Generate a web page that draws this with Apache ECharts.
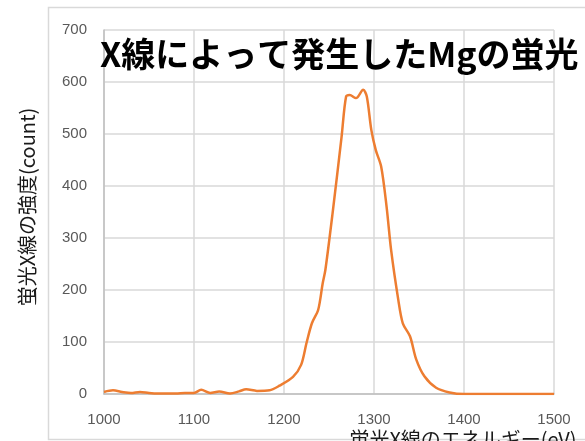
<!DOCTYPE html>
<html>
<head>
<meta charset="utf-8">
<script src="https://cdn.jsdelivr.net/npm/echarts@6/dist/echarts.min.js"></script>
<style>html,body{margin:0;padding:0;background:#fff;}#c{width:585px;height:441px;}</style>
</head>
<body>
<div id="c"></div>
<script>
const energies = [1000,1010,1020,1030,1040,1050,1060,1070,1080,1090,1100,1108,1118,1128,1140,1150,1158,1170,1184,1195,1210,1219,1225,1231,1238,1243,1246,1254,1264,1269,1273,1280,1288,1292,1297,1302,1308,1314,1319,1327,1332,1340,1347,1356,1369,1384,1400,1420,1450,1500];
const counts = [4,7,4,2,4,2,1,1,1,2,2,8,2,5,1,5,9,6,7,16,33,56,98,136,162,213,239,348,495,572,575,569,585,572,508,469,437,360,277,181,136,111,66,34,12,3,0,0,0,0];
const titleText = 'X線によって発生したMgの蛍光';
const xName = '蛍光X線のエネルギー(eV)';
const yName = '蛍光X線の強度(count)';

const chart = echarts.init(document.getElementById('c'));
chart.setOption({
  animation: false,
  backgroundColor: '#fff',
  grid: {left: 104, right: 31, top: 30, bottom: 47, containLabel: false},
  xAxis: {
    type: 'value', min: 1000, max: 1500, interval: 100,
    axisLine: {lineStyle: {color: '#bfbfbf', width: 1.5}},
    axisTick: {show: false},
    axisLabel: {color: '#595959', fontSize: 15, fontFamily: 'Liberation Sans', margin: 18, formatter: v => String(v)},
    splitLine: {show: true, lineStyle: {color: '#d9d9d9', width: 1.5}}
  },
  yAxis: {
    type: 'value', min: 0, max: 700, interval: 100,
    axisLine: {show: true, lineStyle: {color: '#bfbfbf', width: 1.5}},
    axisTick: {show: false},
    axisLabel: {color: '#595959', fontSize: 15, fontFamily: 'Liberation Sans', margin: 17},
    splitLine: {show: true, lineStyle: {color: '#d9d9d9', width: 1.5}}
  },
  series: [{
    type: 'line',
    data: energies.map((e, i) => [e, counts[i]]),
    smooth: 0.3,
    showSymbol: false,
    lineStyle: {color: '#ED7D31', width: 2.5},
    z: 3
  }],
  graphic: [
    {type: 'rect', silent: true, z: -1, shape: {x: 48.5, y: 7.5, width: 545, height: 432}, style: {fill: 'none', stroke: '#d9d9d9', lineWidth: 1.5}},
    {type: 'text', z: 10, left: 100, top: 37, style: {text: titleText, fill: '#000', font: 'bold 34px "Noto Sans CJK JP"'}},
    {type: 'text', z: 10, x: 27, y: 207, rotation: Math.PI / 2, style: {text: yName, fill: '#1a1a1a', font: '20px "Noto Sans CJK JP"', align: 'center', verticalAlign: 'middle'}},
    {type: 'text', z: 10, x: 463, y: 439, style: {text: xName, fill: '#1a1a1a', font: '20px "Noto Sans CJK JP"', align: 'center', verticalAlign: 'middle'}}
  ]
});
</script>
</body>
</html>
